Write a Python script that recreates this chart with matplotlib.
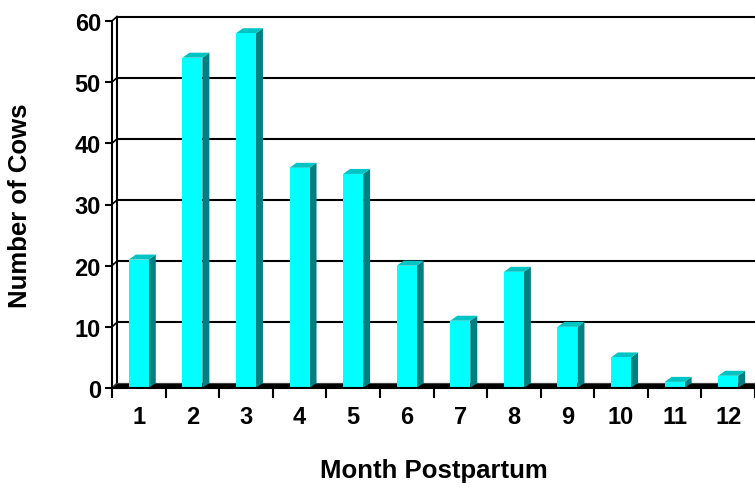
import matplotlib
matplotlib.use("Agg")
import matplotlib.pyplot as plt
from matplotlib.patches import Polygon
import numpy as np

months = [1, 2, 3, 4, 5, 6, 7, 8, 9, 10, 11, 12]
cows = [21, 54, 58, 36, 35, 20, 11, 19, 10, 5, 1, 2]
y_ticks = [0, 10, 20, 30, 40, 50, 60]

FRONT = "#00FFFF"
SIDE = "#008080"
TOP = "#00C4C4"

plt.rcParams["font.family"] = ["Liberation Sans", "DejaVu Sans"]
plt.rcParams["font.weight"] = "bold"

W, H = 755, 489
fig = plt.figure(figsize=(W / 100, H / 100), dpi=100)
# front plane of the plot, in pixels: x 112..755, y 22..389 (from top)
ax = fig.add_axes([112 / W, (H - 389) / H, 643 / W, 367 / H])
ax.set_xlim(0.5, 12.5)
ax.set_ylim(0, 60)

px_x = 12 / 643      # data units per pixel
px_y = 60 / 367
wall_dx, wall_dy = 5 * px_x, 4.5 * px_y   # depth of walls/floor
bar_dx, bar_dy = 7 * px_x, 5 * px_y       # depth of bars
bar_w = 0.373

# back wall gridlines + their diagonal on the left wall
for v in y_ticks:
    ax.plot([0.5 + wall_dx, 13.0], [v + wall_dy, v + wall_dy], color="black",
            lw=1.5, zorder=1, clip_on=False, solid_capstyle="butt")
    ax.plot([0.5, 0.5 + wall_dx], [v, v + wall_dy], color="black",
            lw=1.2, zorder=1, clip_on=False)
ax.plot([0.5 + wall_dx, 0.5 + wall_dx], [wall_dy, 60 + wall_dy], color="black",
        lw=1.5, zorder=1, clip_on=False)

# floor
ax.add_patch(Polygon([(0.5, 0), (13.0, 0), (13.0 + wall_dx, wall_dy), (0.5 + wall_dx, wall_dy)],
                     closed=True, facecolor="black", edgecolor="#404040", lw=0.8,
                     zorder=2, clip_on=False))

# bars: front faces through ax.bar, side and top faces as polygons
ax.bar(months, cows, width=bar_w, color=FRONT, zorder=4, linewidth=0)
for x, v in zip(months, cows):
    r = x + bar_w / 2
    l = x - bar_w / 2
    ax.add_patch(Polygon([(r, 0), (r + bar_dx, bar_dy), (r + bar_dx, v + bar_dy), (r, v)],
                         closed=True, facecolor=SIDE, lw=0, zorder=3, clip_on=False))
    ax.add_patch(Polygon([(l, v), (r, v), (r + bar_dx, v + bar_dy), (l + bar_dx, v + bar_dy)],
                         closed=True, facecolor=TOP, lw=0, zorder=3, clip_on=False))

# front axes lines
for s in ["top", "right"]:
    ax.spines[s].set_visible(False)
ax.spines["left"].set_linewidth(1.5)
ax.spines["bottom"].set_linewidth(1.5)
ax.spines["left"].set_zorder(5)
ax.spines["bottom"].set_zorder(5)

ax.set_yticks(y_ticks)
ax.set_yticklabels([str(v) for v in y_ticks])
ax.tick_params(axis="y", length=5, width=1.5, pad=3, labelsize=17)

ax.set_xticks(months)
ax.set_xticklabels([str(m) for m in months])
ax.set_xticks(np.arange(0.5, 13, 1.0), minor=True)
ax.tick_params(axis="x", which="major", length=0, pad=12, labelsize=17)
ax.tick_params(axis="x", which="minor", length=7, width=1.5)

ax.set_ylabel("Number of Cows", fontsize=18.5, fontweight="bold")
ax.yaxis.set_label_coords(-0.124, 0.5)
ax.set_xlabel("Month Postpartum", fontsize=18.5, fontweight="bold")
ax.xaxis.set_label_coords(0.5, -0.19)

fig.savefig("out.png", dpi=100)
